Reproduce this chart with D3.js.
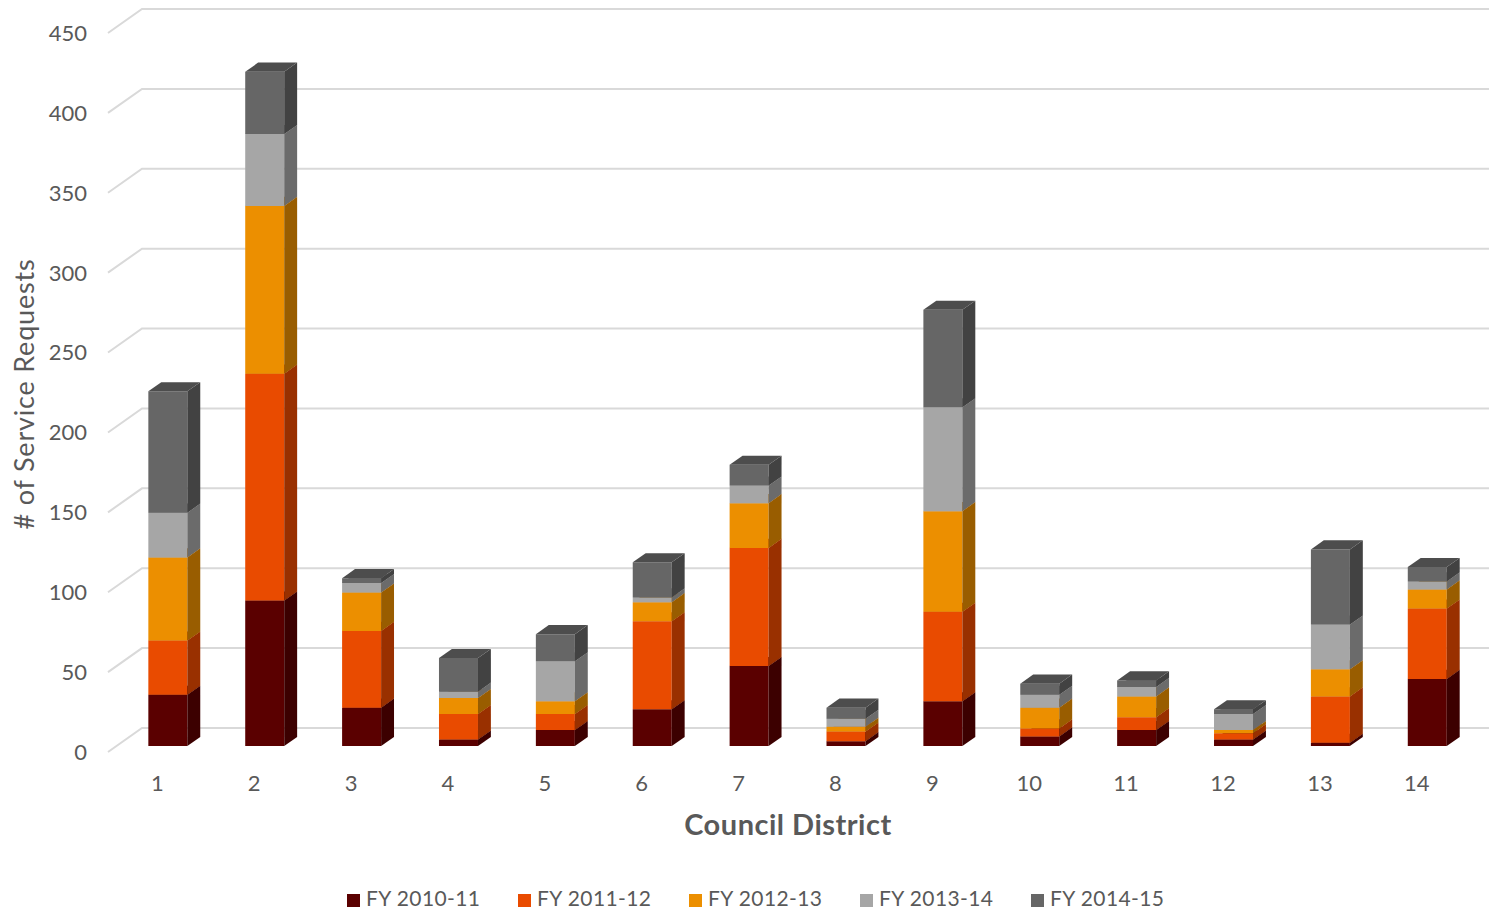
<!DOCTYPE html>
<html><head><meta charset="utf-8">
<script src="https://cdn.jsdelivr.net/npm/d3@7"></script>
<style>body{margin:0;background:#fff}svg{display:block}</style>
</head><body>
<svg id="c" width="1489" height="913"></svg>
<script>
const categories = ['1','2','3','4','5','6','7','8','9','10','11','12','13','14'];
const seriesNames = ['FY 2010-11','FY 2011-12','FY 2012-13','FY 2013-14','FY 2014-15'];
const fy1011 = [32,91,24,4,10,23,50,3,28,6,10,4,2,42];
const fy1112 = [34,142,48,16,10,55,74,6,56,5,8,4,29,44];
const fy1213 = [52,105,24,10,8,12,28,3,63,13,13,2,17,12];
const fy1314 = [28,45,6,4,25,3,11,5,65,8,6,10,28,5];
const fy1415 = [76,39,3,21,17,22,13,7,61,7,4,3,47,9];
const yTicks = [0,50,100,150,200,250,300,350,400,450];

const frontColors = ['#5a0000','#e94b00','#ec8f00','#a6a6a6','#666666'];
const sideColors  = ['#3c0000','#993000','#995d00','#6b6b6b','#424242'];
const topColors   = ['#4a0000','#c23f00','#c47600','#8a8a8a','#4d4d4d'];

const svg = d3.select('#c');
const font = "'Lato', 'DejaVu Sans', sans-serif";
const DX = 34, DY = -24;          // full depth vector
const f1 = 0.25, f2 = 0.63;        // bar depth span

const y = d3.scaleLinear().domain([0,450]).range([752, 33]);
const x = d3.scaleBand().domain(categories).range([110.9, 110.9 + 14*96.88]).paddingInner(0).paddingOuter(0);
const barW = 39;
const P = (xf, v, d) => [xf + d*DX, y(v) + d*DY];

// gridlines
const g = svg.append('g');
yTicks.forEach(t => {
  const a = P(108, t, 0), b = P(108, t, 1);
  g.append('path').attr('d', `M${a[0]},${a[1]}L${b[0]},${b[1]}L1489,${b[1]}`)
    .attr('fill','none').attr('stroke','#d9d9d9').attr('stroke-width',2);
});

// tick labels
yTicks.forEach(t => {
  svg.append('text').attr('x', 87).attr('y', y(t)).attr('dy','0.36em')
    .attr('text-anchor','end').attr('font-family',font).attr('font-size',22)
    .attr('fill','#595959').text(t);
});
categories.forEach(c => {
  svg.append('text').attr('x', x(c) + x.bandwidth()/2 - 2).attr('y', 783).attr('dy','0.36em')
    .attr('text-anchor','middle').attr('font-family',font).attr('font-size',22)
    .attr('fill','#595959').text(c);
});

// stacked data
const rows = categories.map((c,i) => ({cat:c, s0:fy1011[i], s1:fy1112[i], s2:fy1213[i], s3:fy1314[i], s4:fy1415[i]}));
const stack = d3.stack().keys(['s0','s1','s2','s3','s4'])(rows);

const bars = svg.append('g');
categories.forEach((c,i) => {
  const xl = x(c) + (x.bandwidth()-barW)/2;
  const xr = xl + barW;
  stack.forEach((layer, k) => {
    const v0 = layer[i][0], v1 = layer[i][1];
    if (v1 - v0 <= 0) return;
    const a = P(xl, v0, f1), b = P(xr, v0, f1), cc = P(xr, v1, f1), d = P(xl, v1, f1);
    const b2 = P(xr, v0, f2), c2 = P(xr, v1, f2), d2 = P(xl, v1, f2);
    const poly = pts => 'M' + pts.map(p => p.join(',')).join('L') + 'Z';
    bars.append('path').attr('d', poly([a,b,cc,d])).attr('fill', frontColors[k]);
    bars.append('path').attr('d', poly([b,b2,c2,cc])).attr('fill', sideColors[k]);
    bars.append('path').attr('d', poly([d,cc,c2,d2])).attr('fill', topColors[k]);
  });
});

// axis titles
svg.append('text').attr('x', 788).attr('y', 825).attr('dy','0.36em').attr('text-anchor','middle')
  .attr('font-family',font).attr('font-size',29).attr('font-weight','bold').attr('fill','#595959')
  .attr('letter-spacing', 0.5)
  .text('Council District');
svg.append('text').attr('transform','translate(24,394) rotate(-90)').attr('dy','0.36em')
  .attr('text-anchor','middle').attr('font-family',font).attr('font-size',27).attr('fill','#595959')
  .attr('letter-spacing', 0.8)
  .text('# of Service Requests');

// legend
const lg = svg.append('g');
seriesNames.forEach((n,k) => {
  const lx = 347 + k*171;
  lg.append('rect').attr('x', lx).attr('y', 894).attr('width', 13).attr('height', 13).attr('fill', frontColors[k]);
  lg.append('text').attr('x', lx + 19).attr('y', 898).attr('dy','0.36em')
    .attr('font-family',font).attr('font-size',21).attr('fill','#595959')
    .attr('letter-spacing', 0.4).text(n);
});
</script>
</body></html>
